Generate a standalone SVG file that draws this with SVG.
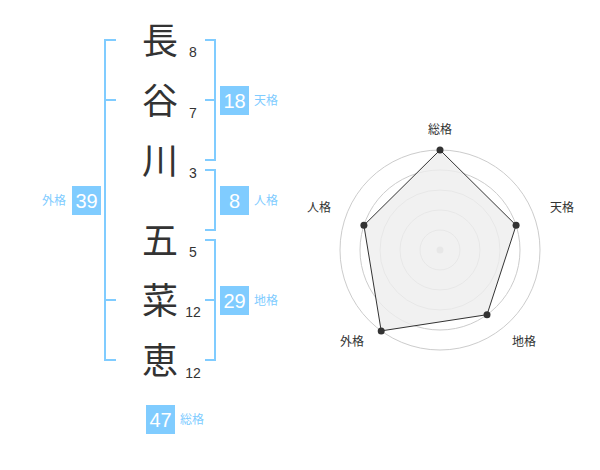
<svg xmlns="http://www.w3.org/2000/svg" width="600" height="470" viewBox="0 0 600 470">
<style>
.ch{font-family:"Noto Sans CJK JP","Noto Sans CJK SC",sans-serif;font-size:36px;fill:#333;text-anchor:middle}
.num{font-family:"Liberation Sans",Arial,sans-serif;font-size:14px;fill:#333;text-anchor:middle}
.br{fill:none;stroke:#80ccff;stroke-width:2}
.box{fill:#80ccff}
.bt{font-family:"Liberation Sans",Arial,sans-serif;font-size:20px;fill:#fff;text-anchor:middle}
.lb{font-family:"Noto Sans CJK JP","Noto Sans CJK SC",sans-serif;font-size:12px;fill:#80ccff}
.rl{font-family:"Noto Sans CJK JP","Noto Sans CJK SC",sans-serif;font-size:12px;fill:#333;text-anchor:middle}
.ring{fill:none;stroke:#ccc;stroke-width:1}
.dot{fill:#333}
</style>
<rect width="600" height="470" fill="#fff"/>
<g id="name">
<text class="ch" x="160" y="54">長</text>
<text class="ch" x="160" y="114">谷</text>
<text class="ch" x="160" y="174">川</text>
<text class="ch" x="160" y="254">五</text>
<text class="ch" x="160" y="314">菜</text>
<text class="ch" x="160" y="374">恵</text>
<text class="num" x="193" y="57">8</text>
<text class="num" x="193" y="118">7</text>
<text class="num" x="193" y="178">3</text>
<text class="num" x="193" y="257">5</text>
<text class="num" x="193" y="317">12</text>
<text class="num" x="193" y="378">12</text>
</g>
<g id="connectors">
<path class="br" d="M116,40 H105 V360 H116 M105,100 H116 M105,300 H116"/>
<path class="br" d="M205,40 H215 V160 H205 M205,100 H215"/>
<path class="br" d="M205,170 H215 V230 H205"/>
<path class="br" d="M205,240 H215 V360 H205 M205,300 H215"/>
</g>
<g id="tenkaku">
<rect class="box" x="220" y="86" width="29" height="29"/>
<text class="bt" x="234.5" y="108">18</text>
<text class="lb" x="254" y="105">天格</text>
</g>
<g id="jinkaku">
<rect class="box" x="220" y="186" width="29" height="29"/>
<text class="bt" x="234.5" y="208">8</text>
<text class="lb" x="254" y="205">人格</text>
</g>
<g id="gaikaku">
<rect class="box" x="72" y="186" width="29" height="29"/>
<text class="bt" x="86.5" y="208">39</text>
<text class="lb" x="66" y="205" text-anchor="end">外格</text>
</g>
<g id="chikaku">
<rect class="box" x="220" y="286" width="29" height="29"/>
<text class="bt" x="234.5" y="308">29</text>
<text class="lb" x="254" y="305">地格</text>
</g>
<g id="soukaku">
<rect class="box" x="146" y="405" width="29" height="29"/>
<text class="bt" x="160.5" y="427">47</text>
<text class="lb" x="180" y="424">総格</text>
</g>
<g id="radar">
<circle class="ring" cx="440" cy="250" r="100"/>
<circle class="ring" cx="440" cy="250" r="80"/>
<circle class="ring" cx="440" cy="250" r="60"/>
<circle class="ring" cx="440" cy="250" r="40"/>
<circle class="ring" cx="440" cy="250" r="20"/>
<circle cx="440" cy="250" r="3.5" fill="#ccc"/>
<polygon points="440,150 516.1,225.3 487,314.7 381.2,330.9 363.9,225.3" fill="#eee" fill-opacity="0.8" stroke="#333" stroke-width="1"/>
<circle class="dot" cx="440" cy="150" r="3.5"/>
<circle class="dot" cx="516.1" cy="225.3" r="3.5"/>
<circle class="dot" cx="487" cy="314.7" r="3.5"/>
<circle class="dot" cx="381.2" cy="330.9" r="3.5"/>
<circle class="dot" cx="363.9" cy="225.3" r="3.5"/>
<text class="rl" x="440" y="134">総格</text>
<text class="rl" x="562" y="212">天格</text>
<text class="rl" x="524" y="346">地格</text>
<text class="rl" x="352" y="346">外格</text>
<text class="rl" x="319" y="212">人格</text>
</g>
</svg>
